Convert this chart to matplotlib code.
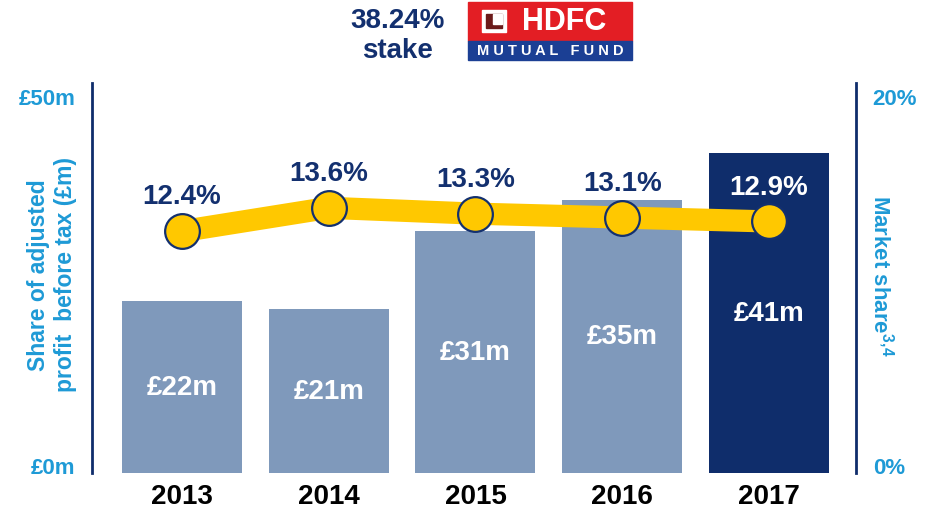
import matplotlib.pyplot as plt
from matplotlib.patches import Rectangle

plt.rcParams['font.family'] = ['Liberation Sans', 'DejaVu Sans']
plt.rcParams['font.weight'] = 'bold'
plt.rcParams['mathtext.fontset'] = 'custom'
plt.rcParams['mathtext.rm'] = 'Liberation Sans:bold'
plt.rcParams['mathtext.bf'] = 'Liberation Sans:bold'

# data
years = ['2013', '2014', '2015', '2016', '2017']
profit = [22, 21, 31, 35, 41]          # £m
market_share = [12.4, 13.6, 13.3, 13.1, 12.9]   # %
bar_colors = ['#7F99BB', '#7F99BB', '#7F99BB', '#7F99BB', '#0F2D6B']
pct_colors = ['#13306F', '#13306F', '#13306F', '#13306F', 'white']

navy = '#13306F'
lblue = '#1E9AD6'

fig = plt.figure(figsize=(9.33, 5.10), dpi=100)
ax = fig.add_axes([92/933, 36/510, 764/933, 390/510])
x = range(len(years))

bars = ax.bar(x, profit, width=0.818, color=bar_colors, zorder=2)
for b, v in zip(bars, profit):
    ax.text(b.get_x() + b.get_width()/2, v/2, '£%dm' % v, color='white',
            fontsize=20, fontweight='bold', ha='center', va='center')

ax.set_xlim(-0.613, 4.593)
ax.set_ylim(0, 50)
ax.set_xticks(list(x))
ax.set_xticklabels(years, fontsize=20, fontweight='bold', color='black')
ax.tick_params(axis='x', length=0, pad=7)
# tick labels sit just inside the axis ends
ax.set_yticks([1.0, 48.3])
ax.set_yticklabels(['£0m', '£50m'], fontsize=16, fontweight='bold', color=lblue)
ax.tick_params(axis='y', length=0, pad=12)
for s in ['top', 'right', 'bottom']:
    ax.spines[s].set_visible(False)
ax.spines['left'].set_color('#0F2D6B')
ax.spines['left'].set_linewidth(2)

fig.text(52/933, 1 - 275/510, 'Share of adjusted\nprofit  before tax (£m)',
         rotation=90, ha='center', va='center', fontsize=16.5,
         fontweight='bold', color=lblue, linespacing=1.2)

ax2 = ax.twinx()
ax2.set_ylim(0, 20)
ax2.set_yticks([0.41, 19.33])
ax2.set_yticklabels(['0%', '20%'], fontsize=16, fontweight='bold', color=lblue)
ax2.tick_params(axis='y', length=0, pad=12)
for s in ['top', 'left', 'bottom']:
    ax2.spines[s].set_visible(False)
ax2.spines['right'].set_color('#0F2D6B')
ax2.spines['right'].set_linewidth(2)

ax2.plot(list(x), market_share, color='#FFC800', linewidth=16,
         solid_capstyle='butt', zorder=3)
ax2.plot(list(x), market_share, linestyle='none', marker='o', markersize=25,
         markerfacecolor='#FFC800', markeredgecolor=navy, markeredgewidth=1.6,
         zorder=4)
for i, v in enumerate(market_share):
    ax2.annotate('%.1f%%' % v, (i, v), xytext=(0, 25), textcoords='offset points',
                 ha='center', va='center', fontsize=20, fontweight='bold',
                 color=pct_colors[i])

fig.text(881/933, 1 - 276/510, 'Market share$^{3,\\!4}$', rotation=-90,
         ha='center', va='center', fontsize=16, fontweight='bold', color=lblue)

# title and logo
fig.text(398/933, 1 - 36/510, '38.24%\nstake', ha='center', va='center',
         fontsize=20, fontweight='bold', color=navy, linespacing=1.15)
fig.patches.append(Rectangle((468/933, 1 - 42/510), 164/933, 39/510,
                             transform=fig.transFigure, color='#E31E24'))
fig.patches.append(Rectangle((468/933, 1 - 61/510), 164/933, 19/510,
                             transform=fig.transFigure, color='#1B3F94'))
fig.patches.append(Rectangle((482/933, 1 - 33/510), 24/933, 22/510,
                             transform=fig.transFigure, color='white'))
fig.patches.append(Rectangle((486/933, 1 - 29/510), 16/933, 14/510,
                             transform=fig.transFigure, color='#6B1A1A'))
fig.patches.append(Rectangle((493/933, 1 - 25/510), 9/933, 10/510,
                             transform=fig.transFigure, color='white'))
fig.text(564/933, 1 - 22/510, 'HDFC', ha='center', va='center', fontsize=22,
         fontweight='bold', color='white')
fig.text(550/933, 1 - 51/510, 'M U T U A L   F U N D', ha='center', va='center',
         fontsize=10.5, fontweight='bold', color='white')

fig.savefig('out.png', dpi=100)
